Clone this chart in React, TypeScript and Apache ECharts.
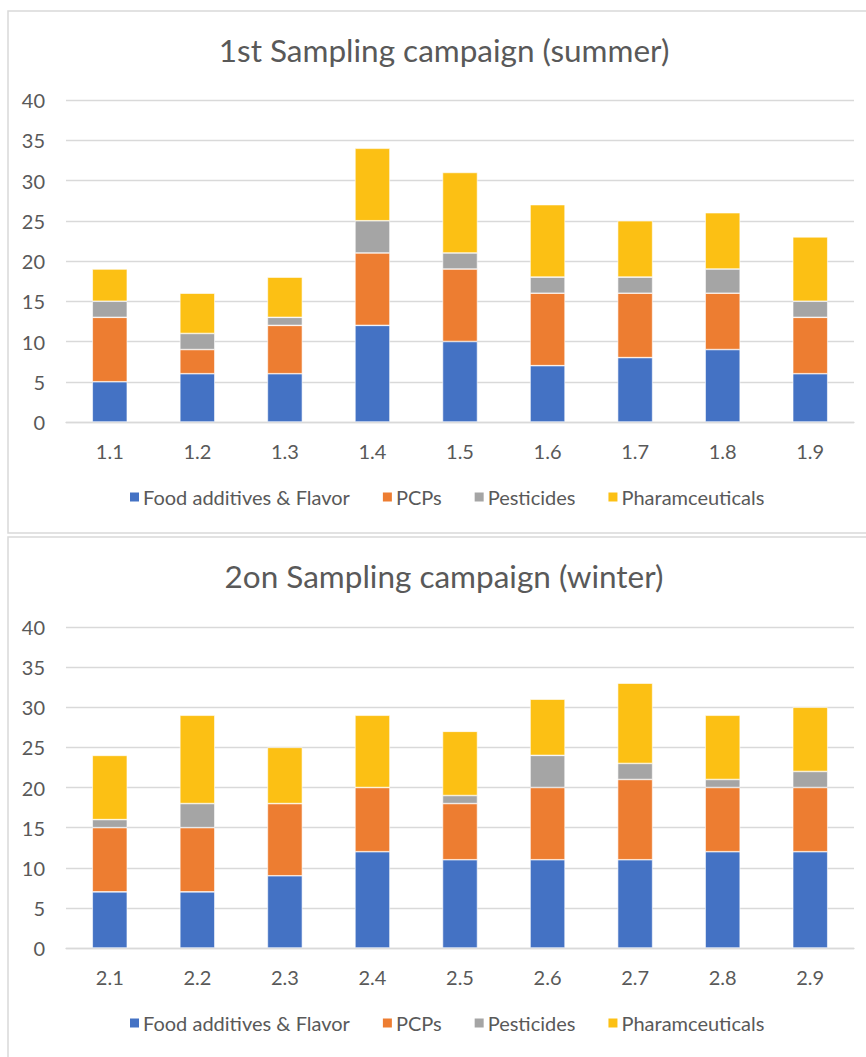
import React, { useEffect, useRef } from "react";
import * as echarts from "echarts";

const summerCategories = ["1.1", "1.2", "1.3", "1.4", "1.5", "1.6", "1.7", "1.8", "1.9"];
const winterCategories = ["2.1", "2.2", "2.3", "2.4", "2.5", "2.6", "2.7", "2.8", "2.9"];
const seriesNames = ["Food additives & Flavor", "PCPs", "Pesticides", "Pharamceuticals"];
const seriesColors = ["#4472C4", "#ED7D31", "#A5A5A5", "#FCC014"];

const summerFood = [5, 6, 6, 12, 10, 7, 8, 9, 6];
const summerPCPs = [8, 3, 6, 9, 9, 9, 8, 7, 7];
const summerPesticides = [2, 2, 1, 4, 2, 2, 2, 3, 2];
const summerPharma = [4, 5, 5, 9, 10, 9, 7, 7, 8];

const winterFood = [7, 7, 9, 12, 11, 11, 11, 12, 12];
const winterPCPs = [8, 8, 9, 8, 7, 9, 10, 8, 8];
const winterPesticides = [1, 3, 0, 0, 1, 4, 2, 1, 2];
const winterPharma = [8, 11, 7, 9, 8, 7, 10, 8, 8];

const yTicks = { min: 0, max: 40, interval: 5 };

const titles = ["1st Sampling campaign (summer)", "2on Sampling campaign (winter)"];

const FONT = "Lato";
const TXT = "#595959";
const GRID = "#D9D9D9";

export default function App() {
  const ref = useRef<HTMLDivElement>(null);
  useEffect(() => {
    if (!ref.current) return;
    const chart = echarts.init(ref.current, undefined, { renderer: "svg" });
    const panelTops = [11, 537];
    const summer = [summerFood, summerPCPs, summerPesticides, summerPharma];
    const winter = [winterFood, winterPCPs, winterPesticides, winterPharma];
    const mkSeries = (data: number[][], idx: number) =>
      data.map((d, i) => ({
        name: seriesNames[i],
        type: "bar",
        stack: "s" + idx,
        xAxisIndex: idx,
        yAxisIndex: idx,
        barWidth: 35,
        data: d,
        itemStyle: { color: seriesColors[i], borderColor: "#ffffff", borderWidth: 0.6 },
      }));
    const mkX = (cats: string[], idx: number) => ({
      type: "category",
      gridIndex: idx,
      data: cats,
      axisTick: { show: false },
      axisLine: { lineStyle: { color: GRID, width: 1.3 } },
      axisLabel: { color: TXT, fontFamily: FONT, fontSize: 20, margin: 19 },
    });
    const mkY = (idx: number) => ({
      type: "value",
      gridIndex: idx,
      min: yTicks.min,
      max: yTicks.max,
      interval: yTicks.interval,
      axisLine: { show: false },
      axisTick: { show: false },
      splitLine: { lineStyle: { color: GRID, width: 1.3 } },
      axisLabel: { color: TXT, fontFamily: FONT, fontSize: 20, margin: 21 },
    });
    const mkLegend = (top: number) => ({
      top,
      left: 123,
      itemWidth: 11,
      itemHeight: 11,
      itemGap: 31,
      icon: "rect",
      textStyle: { color: TXT, fontFamily: FONT, fontSize: 20, padding: [0, 0, 0, -2] },
      data: seriesNames,
    });
    chart.setOption({
      animation: false,
      backgroundColor: "#ffffff",
      graphic: [
        ...panelTops.map((t) => ({
          type: "rect",
          shape: { x: 8, y: t, width: 880, height: 522 },
          style: { fill: "none", stroke: GRID, lineWidth: 1.5 },
          z: -10,
        })),
        ...titles.map((text, i) => ({
          type: "text",
          x: 444,
          y: panelTops[i] + 39,
          style: {
            text,
            fill: TXT,
            fontFamily: FONT,
            fontSize: 31.5,
            textAlign: "center",
            textVerticalAlign: "middle",
          },
        })),
      ],
      grid: [
        { left: 66, width: 788, top: 100, height: 322 },
        { left: 66, width: 788, top: 627, height: 321 },
      ],
      legend: [mkLegend(482), mkLegend(1008)],
      xAxis: [mkX(summerCategories, 0), mkX(winterCategories, 1)],
      yAxis: [mkY(0), mkY(1)],
      series: [...mkSeries(summer, 0), ...mkSeries(winter, 1)],
    });
    return () => chart.dispose();
  }, []);
  return (
    <div
      ref={ref}
      style={{ position: "absolute", left: 0, top: 0, width: 866, height: 1057 }}
    />
  );
}
